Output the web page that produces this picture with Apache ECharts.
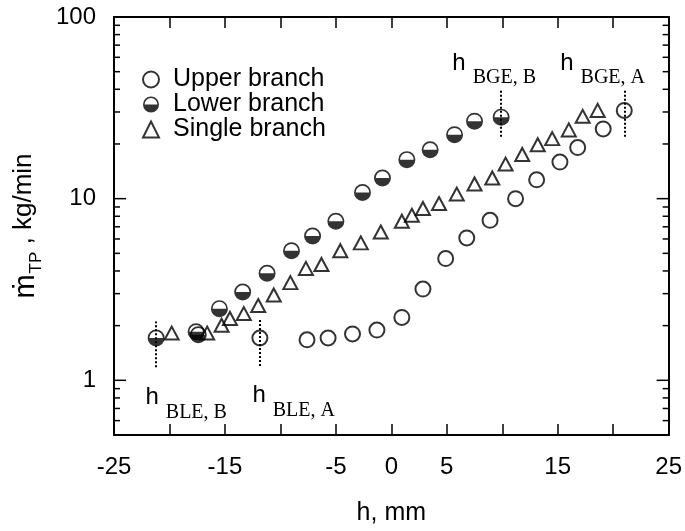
<!DOCTYPE html>
<html>
<head>
<meta charset="utf-8">
<script src="https://cdn.jsdelivr.net/npm/echarts@6/dist/echarts.min.js"></script>
<style>
  html, body { margin: 0; padding: 0; background: #fff; }
  #main { width: 685px; height: 531px; }
</style>
</head>
<body>
<div id="main"></div>
<script>
// flow rate vs. level h, three branches
var hUpper = [-11.85, -7.6, -5.7, -3.5, -1.3, 0.95, 2.85, 4.9, 6.8, 8.9, 11.2, 13.1, 15.2, 16.8, 19.1, 21.0];
var mUpper = [1.71, 1.67, 1.71, 1.80, 1.89, 2.22, 3.18, 4.68, 6.08, 7.6, 10.0, 12.7, 15.9, 19.1, 24.2, 30.6];

var hLower = [-21.2, -17.6, -17.4, -15.5, -13.4, -11.2, -9.0, -7.1, -5.0, -2.6, -0.8, 1.4, 3.5, 5.7, 7.5, 9.9];
var mLower = [1.71, 1.85, 1.78, 2.48, 3.06, 3.88, 5.17, 6.23, 7.51, 10.8, 13.0, 16.4, 18.6, 22.5, 26.7, 28.1];

var hSingle = [-19.8, -16.6, -15.3, -14.55, -13.3, -12.0, -10.6, -9.1, -7.7, -6.3, -4.6, -2.75, -0.95, 0.95, 1.85,
    2.85, 4.3, 5.9, 7.5, 9.1, 10.3, 11.8, 13.2, 14.5, 16.0, 17.25, 18.6];
var mSingle = [1.82, 1.82, 2.01, 2.19, 2.33, 2.58, 2.95, 3.45, 4.13, 4.34, 5.17, 5.71, 6.55, 7.51, 8.1,
    8.83, 9.4, 10.6, 12.05, 13.0, 15.5, 17.5, 19.8, 21.4, 23.9, 28.4, 30.6];

var xLabels = [-25, -15, -5, 0, 5, 15, 25];
var yMajorTicks = [1, 10];
var yMinorTicks = [0.6, 0.7, 0.8, 0.9, 2, 3, 4, 5, 6, 7, 8, 9, 20, 30, 40, 50, 60, 70, 80, 90];

function pairs(xs, ys) {
    return xs.map(function (x, i) { return [x, ys[i]]; });
}

var black = '#000';
var sans = 'Liberation Sans';
var serif = 'Liberation Serif';
var halfDisc = 'path://M-10,0 A10,10 0 0,0 10,0 A10,10 0 0,0 -10,0 L-8,0 A8,8 0 0,1 8,0 Z';

var dotted = {type: 'dotted', color: black, width: 2};
var noteRich = {
    h: {fontFamily: sans, fontSize: 24, lineHeight: 24, color: black, verticalAlign: 'top'},
    s: {fontFamily: serif, fontSize: 20, lineHeight: 20, color: black, verticalAlign: 'top', padding: [17, 0, 0, 7]}
};
function note(sub, x, y) {
    return {
        coord: [x, y],
        label: {formatter: '{h|h}{s|' + sub + '}'}
    };
}
var markPointBase = {
    symbol: 'circle',
    symbolSize: 1,
    itemStyle: {color: 'rgba(0,0,0,0)'},
    silent: true,
    label: {show: true, position: [0, 0], align: 'left', verticalAlign: 'top', rich: noteRich}
};

var myChart = echarts.init(document.getElementById('main'));

var option = {
    animation: false,
    backgroundColor: '#fff',
    textStyle: {fontFamily: sans, color: black},
    grid: {left: 114, right: 16, top: 17, bottom: 88},
    legend: {
        data: ['Upper branch', 'Lower branch', 'Single branch'],
        orient: 'vertical',
        left: 137,
        top: 62,
        itemWidth: 16,
        itemHeight: 16,
        itemGap: 0,
        selectedMode: false,
        textStyle: {fontFamily: sans, fontSize: 25, color: black, padding: [0, 0, 0, 9]}
    },
    xAxis: [{
        type: 'value',
        min: -25,
        max: 25,
        interval: 5,
        name: 'h, mm',
        nameLocation: 'middle',
        nameGap: 66,
        nameTextStyle: {fontFamily: sans, fontSize: 25, color: black},
        axisLine: {onZero: false, lineStyle: {color: black, width: 2}},
        axisTick: {inside: true, length: 11, lineStyle: {color: black, width: 1.5}},
        axisLabel: {
            margin: 20,
            fontFamily: sans,
            fontSize: 24,
            color: black,
            formatter: function (v) { return xLabels.indexOf(v) >= 0 ? String(v) : ''; }
        },
        splitLine: {show: false}
    }, {
        type: 'value',
        position: 'top',
        min: -25,
        max: 25,
        interval: 5,
        axisLine: {onZero: false, lineStyle: {color: black, width: 2}},
        axisTick: {inside: true, length: 11, lineStyle: {color: black, width: 1.5}},
        axisLabel: {show: false},
        splitLine: {show: false}
    }],
    yAxis: [{
        type: 'log',
        logBase: 10,
        min: 0.5,
        max: 100,
        name: '{m|ṁ}{s|TP}{t| , kg/min}',
        nameLocation: 'middle',
        nameRotate: 90,
        nameGap: 72,
        nameTextStyle: {
            rich: {
                m: {fontFamily: sans, fontSize: 29, color: black, verticalAlign: 'top', lineHeight: 29},
                s: {fontFamily: sans, fontSize: 17, color: black, verticalAlign: 'top', lineHeight: 17, padding: [17, 0, 0, 1]},
                t: {fontFamily: sans, fontSize: 26, color: black, verticalAlign: 'top', lineHeight: 29}
            }
        },
        axisLine: {onZero: false, lineStyle: {color: black, width: 2}},
        axisTick: {show: false},
        axisLabel: {
            margin: 18,
            fontFamily: sans,
            fontSize: 24,
            color: black,
            formatter: function (v) {
                var l = Math.log10(v);
                return Math.abs(l - Math.round(l)) < 1e-6 ? String(Math.round(v)) : '';
            }
        },
        splitLine: {show: false}
    }, {
        type: 'log',
        logBase: 10,
        min: 0.5,
        max: 100,
        position: 'right',
        axisLine: {onZero: false, lineStyle: {color: black, width: 2}},
        axisTick: {show: false},
        axisLabel: {show: false},
        splitLine: {show: false}
    }],
    series: [{
        name: 'Upper branch',
        type: 'scatter',
        data: pairs(hUpper, mUpper),
        symbol: 'circle',
        symbolSize: 15,
        itemStyle: {color: 'rgba(255,255,255,0)', borderColor: black, borderWidth: 2},
        emphasis: {disabled: true},
        markLine: {
            silent: true,
            symbol: ['none', 'none'],
            lineStyle: dotted,
            label: {show: false},
            data: [
                [{coord: [-11.85, 1.2]}, {coord: [-11.85, 2.19]}],
                [{coord: [21.0, 21.9]}, {coord: [21.0, 39.8]}]
            ]
        },
        markPoint: Object.assign({}, markPointBase, {
            data: [note('BLE, A', -12.48, 0.955), note('BGE, A', 15.27, 64.6)]
        })
    }, {
        name: 'Lower branch',
        type: 'scatter',
        data: pairs(hLower, mLower),
        symbol: halfDisc,
        symbolSize: 17,
        itemStyle: {color: black, borderWidth: 0},
        emphasis: {disabled: true},
        markLine: {
            silent: true,
            symbol: ['none', 'none'],
            lineStyle: dotted,
            label: {show: false},
            data: [
                [{coord: [-21.2, 1.18]}, {coord: [-21.2, 2.11]}],
                [{coord: [9.9, 21.9]}, {coord: [9.9, 39.8]}]
            ]
        },
        markPoint: Object.assign({}, markPointBase, {
            data: [note('BLE, B', -22.12, 0.93), note('BGE, B', 5.54, 64.6)]
        })
    }, {
        name: 'Single branch',
        type: 'scatter',
        data: pairs(hSingle, mSingle),
        symbol: 'triangle',
        symbolSize: [14, 13],
        itemStyle: {color: 'rgba(255,255,255,0)', borderColor: black, borderWidth: 2},
        emphasis: {disabled: true}
    }, {
        // log ticks on left and right frame
        type: 'custom',
        silent: true,
        clip: false,
        data: yMajorTicks.map(function (v) { return [0, v, 1]; })
            .concat(yMinorTicks.map(function (v) { return [0, v, 0]; })),
        encode: {x: 0, y: 1},
        renderItem: function (params, api) {
            var v = api.value(1);
            var len = api.value(2) ? 12 : 6;
            var pl = api.coord([-25, v]);
            var pr = api.coord([25, v]);
            var st = {stroke: black, lineWidth: 1.5};
            return {
                type: 'group',
                children: [
                    {type: 'line', shape: {x1: pl[0], y1: pl[1], x2: pl[0] + len, y2: pl[1]}, style: st},
                    {type: 'line', shape: {x1: pr[0] - len, y1: pr[1], x2: pr[0], y2: pr[1]}, style: st}
                ]
            };
        }
    }]
};

myChart.setOption(option);
</script>
</body>
</html>
